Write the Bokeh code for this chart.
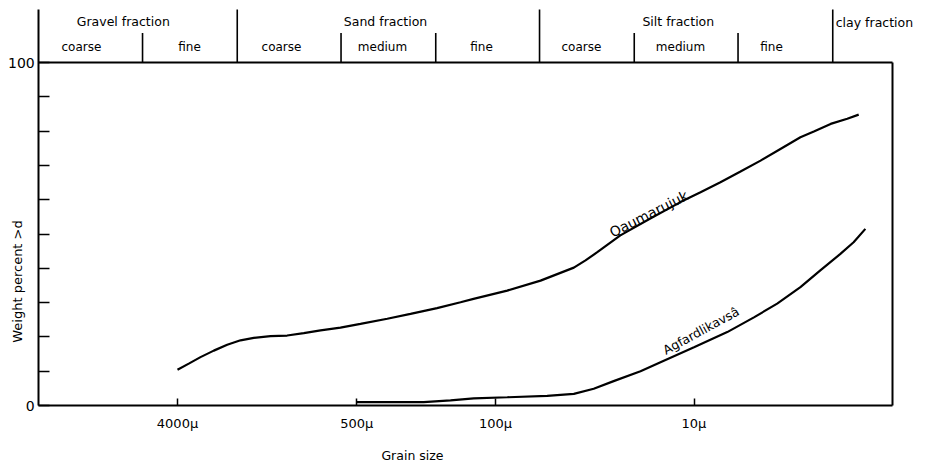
import math
from bokeh.plotting import figure
from bokeh.models import Range1d, FixedTicker, Label, ColumnDataSource
from bokeh.core.properties import value
from bokeh.embed import file_html
from bokeh.resources import INLINE

# ---- data ----
q_size = [4000, 3509, 3063, 2625, 2247, 1925, 1651, 1360, 1121, 924, 761, 604, 479, 351, 268, 197,
          150, 129, 87.3, 59.3, 40.3, 35.2, 30.7, 23.5, 16.6, 11.7, 9.27, 7.36, 5.83, 4.62, 3.67,
          2.91, 2.49, 2.05, 1.69, 1.48]
q_pct = [10.4, 12.2, 14.1, 16.0, 17.7, 19.0, 19.7, 20.2, 20.4, 21.1, 21.9, 22.7, 23.8, 25.3, 26.7, 28.4,
         30.1, 31.1, 33.5, 36.4, 40.2, 42.3, 44.7, 49.6, 54.5, 59.3, 62.2, 65.1, 68.2, 71.4, 74.8,
         78.2, 79.9, 82.1, 83.6, 84.8]

a_size = [500, 230, 168.5, 128.6, 87.3, 54.9, 40.3, 32.0, 25.4, 18.6, 14.75, 10.0, 6.80, 4.99, 3.81,
          2.91, 2.31, 1.83, 1.57, 1.37]
a_pct = [1.0, 1.0, 1.5, 2.1, 2.4, 2.8, 3.4, 4.9, 7.1, 10.0, 12.6, 17.0, 21.4, 25.7, 29.7,
         34.5, 39.4, 44.2, 47.6, 51.5]

x_ticks = [4000, 500, 100, 10]
x_tick_labels = ["4000\u03bc", "500\u03bc", "100\u03bc", "10\u03bc"]
y_major = [0, 100]
y_minor = [10, 20, 30, 40, 50, 60, 70, 80, 90]

size_min, size_max = 1, 20000
fraction_bounds = [2000, 60, 2]            # gravel | sand | silt | clay
sub_bounds = [6000, 600, 200, 20, 6]       # coarse | medium | fine
fraction_names = ["Gravel fraction", "Sand fraction", "Silt fraction"]
fraction_pos = [7500, 358, 12]
clay_name = "clay fraction"
sub_names = ["coarse", "fine", "coarse", "medium", "fine", "coarse", "medium", "fine"]
sub_pos = [12190, 3480, 1197, 371, 117.6, 36.9, 11.7, 4.07]

FONT = "DejaVu Sans"
W, H = 926, 466

# page calibration: 100 micron at x=495, 198.5 px per decade; 0 % at y=405, 3.43 px per percent
PPD, X100 = 198.5, 495
PPU, Y0 = 3.43, 405
x_start = 10 ** (2 + X100 / PPD)
x_end = 10 ** (2 - (W - X100) / PPD)
y_start = -(H - Y0) / PPU
y_end = Y0 / PPU
top = 115.45

p = figure(width=W, height=H, x_axis_type="log",
           x_range=Range1d(x_start, x_end), y_range=Range1d(y_start, y_end),
           output_backend="svg", toolbar_location=None, title=None,
           min_border=0, min_border_left=0, min_border_right=0, min_border_top=0, min_border_bottom=0)
p.xgrid.visible = False
p.ygrid.visible = False
p.outline_line_color = None
p.background_fill_color = "white"
p.border_fill_color = "white"

# x axis
xa = p.xaxis[0]
xa.fixed_location = 0
xa.bounds = (size_min, size_max)
xa.ticker = FixedTicker(ticks=x_ticks)
xa.major_label_overrides = {t: l for t, l in zip(x_ticks, x_tick_labels)}
xa.major_tick_in = 7
xa.major_tick_out = 0
xa.minor_tick_line_color = None
xa.axis_line_width = 2
xa.major_tick_line_width = 1.5
xa.major_label_standoff = 10
xa.major_label_text_font = FONT
xa.major_label_text_font_size = "13px"
xa.major_label_text_color = "black"
xa.axis_line_color = "black"
xa.major_tick_line_color = "black"

# y axis
ya = p.yaxis[0]
ya.fixed_location = size_max
ya.bounds = (0, top)
ya.ticker = FixedTicker(ticks=y_major, minor_ticks=y_minor)
ya.major_tick_in = 11
ya.major_tick_out = 0
ya.minor_tick_in = 11
ya.minor_tick_out = 0
ya.axis_line_width = 2
ya.major_tick_line_width = 1.5
ya.minor_tick_line_width = 1.5
ya.minor_tick_line_color = "black"
ya.major_tick_line_color = "black"
ya.axis_line_color = "black"
ya.major_label_standoff = 4
ya.major_label_text_font = FONT
ya.major_label_text_font_size = "14px"
ya.major_label_text_color = "black"

# frame top and right border
p.segment(x0=[size_max], y0=[100], x1=[size_min], y1=[100], line_color="black", line_width=2)
p.segment(x0=[size_min], y0=[0], x1=[size_min], y1=[100], line_color="black", line_width=2)

# header dividers
p.segment(x0=fraction_bounds, y0=[100] * len(fraction_bounds), x1=fraction_bounds,
          y1=[top] * len(fraction_bounds), line_color="black", line_width=1.6)
p.segment(x0=sub_bounds, y0=[100] * len(sub_bounds), x1=sub_bounds,
          y1=[108.6] * len(sub_bounds), line_color="black", line_width=1.6)

# header texts
head_src = ColumnDataSource(dict(x=fraction_pos, y=[111.9] * len(fraction_pos), t=fraction_names))
p.text(x="x", y="y", text="t", source=head_src, text_align="center", text_baseline="alphabetic",
       text_font=value(FONT), text_font_size="12.5px", text_color="black")
p.text(x=[fraction_bounds[-1]], y=[111.6], text=[clay_name], x_offset=3, text_align="left",
       text_baseline="alphabetic", text_font=value(FONT), text_font_size="12.5px", text_color="black")
sub_src = ColumnDataSource(dict(x=sub_pos, y=[104.6] * len(sub_pos), t=sub_names))
p.text(x="x", y="y", text="t", source=sub_src, text_align="center", text_baseline="alphabetic",
       text_font=value(FONT), text_font_size="12px", text_color="black")

# curves
p.line(q_size, q_pct, line_color="black", line_width=2.2)
p.line(a_size, a_pct, line_color="black", line_width=2.2)

p.add_layout(Label(x=26.35, y=50.2, text="Qaumarujuk", angle=0.47, text_align="left",
                   text_baseline="alphabetic", text_font=FONT, text_font_size="14px", text_color="black"))
p.add_layout(Label(x=14.2, y=15.9, text="Agfardlikavs\u00e2", angle=0.50, text_align="left",
                   text_baseline="alphabetic", text_font=FONT, text_font_size="12.5px", text_color="black"))

# axis titles
p.add_layout(Label(x=25590, y=36.15, text="Weight percent >d", angle=math.pi / 2, text_align="center",
                   text_baseline="middle", text_font=FONT, text_font_size="13px", text_color="black"))
p.add_layout(Label(x=262, y=-14.6, text="Grain size", text_align="center", text_baseline="middle",
                   text_font=FONT, text_font_size="12.5px", text_color="black"))

open("out.html", "w").write(file_html(p, INLINE))
